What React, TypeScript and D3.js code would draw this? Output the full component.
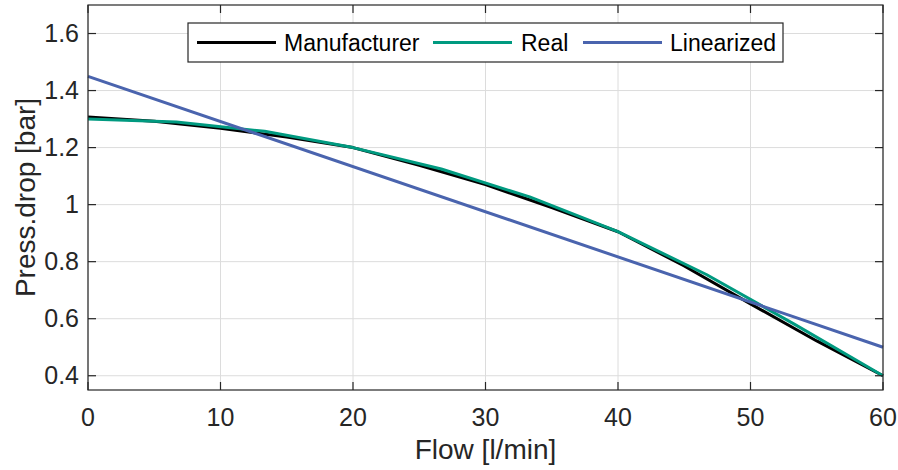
import React from "react";
import * as d3 from "d3";

// Flow [l/min] vs pressure drop [bar]
const manufacturerFlow = [0, 5, 10, 15, 20, 25, 30, 35, 40, 45, 50, 55, 60];
const manufacturerDrop = [1.307, 1.292, 1.268, 1.237, 1.2, 1.138, 1.07, 0.99, 0.905, 0.785, 0.652, 0.522, 0.4];

const realFlow = [0, 6.667, 13.333, 20, 26.667, 33.333, 40, 46.667, 53.333, 60];
const realDrop = [1.3, 1.29, 1.257, 1.2, 1.125, 1.027, 0.905, 0.755, 0.58, 0.4];

const linearFlow = [0, 60];
const linearDrop = [1.45, 0.5];

const xTicks = [0, 10, 20, 30, 40, 50, 60];
const yTicks = [0.4, 0.6, 0.8, 1, 1.2, 1.4, 1.6];

const seriesNames = ["Manufacturer", "Real", "Linearized"];
const seriesColors = ["#000000", "#009a80", "#4a64ae"];

const W = 898;
const H = 470;
const M = { left: 88, right: 15, top: 5, bottom: 80 };
const FONT = "'Liberation Sans', Arial, Helvetica, sans-serif";
const AXIS = "#262626";

export default function App() {
  const x = d3.scaleLinear().domain([0, 60]).range([M.left, W - M.right]);
  const y = d3.scaleLinear().domain([0.35, 1.7]).range([H - M.bottom, M.top]);
  const [x0, x1] = x.range();
  const [y0, y1] = y.range();

  const line = d3
    .line<[number, number]>()
    .x((d) => x(d[0]))
    .y((d) => y(d[1]));

  const series: [number, number][][] = [
    manufacturerFlow.map((f, i) => [f, manufacturerDrop[i]]),
    realFlow.map((f, i) => [f, realDrop[i]]),
    linearFlow.map((f, i) => [f, linearDrop[i]]),
  ];

  const tickLen = 8;

  // legend layout
  const lg = { x: 188, y: 23, w: 595, h: 39 };
  const legendItems = [
    { lx: 197, tx: 284 },
    { lx: 433, tx: 521 },
    { lx: 583, tx: 670 },
  ];
  const lgMid = lg.y + lg.h / 2;

  return (
    <svg
      width={W}
      height={H}
      style={{ position: "absolute", left: 0, top: 0, background: "#fff" }}
      fontFamily={FONT}
    >
      <rect x={0} y={0} width={W} height={H} fill="#fff" />
      {/* grid */}
      <g stroke="#dcdcdc" strokeWidth={1}>
        {xTicks.map((t) => (
          <line key={"gx" + t} x1={x(t)} x2={x(t)} y1={y1} y2={y0} />
        ))}
        {yTicks.map((t) => (
          <line key={"gy" + t} x1={x0} x2={x1} y1={y(t)} y2={y(t)} />
        ))}
      </g>

      {/* series */}
      <g fill="none" strokeWidth={3} strokeLinejoin="round">
        {series.map((s, i) => (
          <path key={i} d={line(s) || ""} stroke={seriesColors[i]} />
        ))}
      </g>

      {/* box and ticks */}
      <g stroke={AXIS} strokeWidth={1.2}>
        <rect x={x0} y={y1} width={x1 - x0} height={y0 - y1} fill="none" />
        {xTicks.map((t) => (
          <g key={"tx" + t}>
            <line x1={x(t)} x2={x(t)} y1={y0} y2={y0 - tickLen} />
            <line x1={x(t)} x2={x(t)} y1={y1} y2={y1 + tickLen} />
          </g>
        ))}
        {yTicks.map((t) => (
          <g key={"ty" + t}>
            <line x1={x0} x2={x0 + tickLen} y1={y(t)} y2={y(t)} />
            <line x1={x1} x2={x1 - tickLen} y1={y(t)} y2={y(t)} />
          </g>
        ))}
      </g>

      {/* tick labels */}
      <g fill={AXIS} fontSize={25}>
        {xTicks.map((t) => (
          <text key={"lx" + t} x={x(t)} y={y0 + 36} textAnchor="middle">
            {t}
          </text>
        ))}
        {yTicks.map((t) => (
          <text key={"ly" + t} x={x0 - 9} y={y(t)} dy="0.35em" textAnchor="end">
            {String(t)}
          </text>
        ))}
      </g>

      {/* axis labels */}
      <text x={(x0 + x1) / 2} y={459} textAnchor="middle" fontSize={28} fill={AXIS}>
        Flow [l/min]
      </text>
      <text
        transform={`translate(35, ${(y0 + y1) / 2}) rotate(-90)`}
        textAnchor="middle"
        fontSize={28}
        fill={AXIS}
      >
        Press.drop [bar]
      </text>

      {/* legend */}
      <rect x={lg.x} y={lg.y} width={lg.w} height={lg.h} fill="#fff" stroke={AXIS} strokeWidth={1.2} />
      {seriesNames.map((name, i) => (
        <g key={name}>
          <line
            x1={legendItems[i].lx}
            x2={legendItems[i].lx + 79}
            y1={lgMid}
            y2={lgMid}
            stroke={seriesColors[i]}
            strokeWidth={3}
          />
          <text x={legendItems[i].tx} y={lgMid} dy="0.35em" fontSize={23} fill="#000">
            {name}
          </text>
        </g>
      ))}
    </svg>
  );
}
